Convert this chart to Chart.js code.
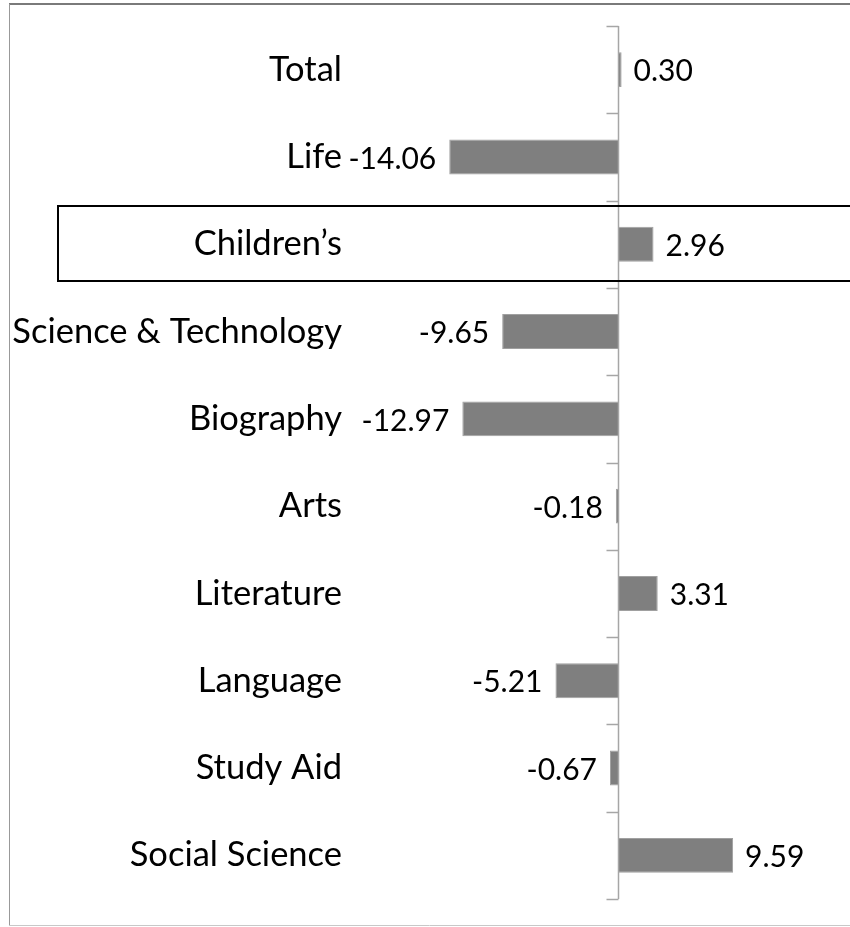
<!DOCTYPE html>
<html>
<head>
<meta charset="utf-8">
<script src="https://cdn.jsdelivr.net/npm/chart.js@4"></script>
<style>
  html, body { margin: 0; padding: 0; background: #fff; }
</style>
</head>
<body>
<canvas id="chart" width="850" height="927"></canvas>
<script>
// Categories, top to bottom
const categories = ['Total', 'Life', 'Children\u2019s', 'Science & Technology', 'Biography',
  'Arts', 'Literature', 'Language', 'Study Aid', 'Social Science'];
// Change values per category
const values = [0.30, -14.06, 2.96, -9.65, -12.97, -0.18, 3.31, -5.21, -0.67, 9.59];
// Row outlined with a box
const highlighted = 'Children\u2019s';

const FONT = 'Lato, "Open Sans", sans-serif';

// Draws the frame, zero axis with ticks, value labels and highlight box
const decorations = {
  id: 'decorations',
  beforeDraw(chart) {
    const { ctx } = chart;
    ctx.save();
    ctx.strokeStyle = '#7a7a7a';
    ctx.lineWidth = 2;
    ctx.beginPath();
    ctx.moveTo(9, 4);
    ctx.lineTo(850, 4);
    ctx.stroke();
    ctx.strokeStyle = '#999';
    ctx.lineWidth = 1;
    ctx.beginPath();
    ctx.moveTo(9.5, 4);
    ctx.lineTo(9.5, 926);
    ctx.stroke();
    ctx.strokeStyle = '#c8c8c8';
    ctx.beginPath();
    ctx.moveTo(9, 925.5);
    ctx.lineTo(850, 925.5);
    ctx.stroke();
    ctx.restore();
  },
  afterDatasetsDraw(chart) {
    const { ctx, chartArea, scales: { x, y } } = chart;
    const zero = Math.round(x.getPixelForValue(0)) + 0.5;
    const step = (chartArea.bottom - chartArea.top) / categories.length;
    ctx.save();

    // zero axis + tick marks between categories
    ctx.strokeStyle = '#a6a6a6';
    ctx.lineWidth = 1.5;
    ctx.beginPath();
    ctx.moveTo(zero, chartArea.top);
    ctx.lineTo(zero, chartArea.bottom);
    for (let i = 0; i <= categories.length; i++) {
      const ty = Math.round(chartArea.top + i * step) + 0.5;
      ctx.moveTo(zero - 12, ty);
      ctx.lineTo(zero, ty);
    }
    ctx.stroke();

    // value labels
    ctx.fillStyle = '#000';
    ctx.font = '30px ' + FONT;
    ctx.textBaseline = 'middle';
    values.forEach((v, i) => {
      const px = x.getPixelForValue(v);
      const py = y.getPixelForValue(i) + 2;
      if (v >= 0) {
        ctx.textAlign = 'left';
        ctx.fillText(v.toFixed(2), px + 12, py);
      } else {
        ctx.textAlign = 'right';
        ctx.fillText(v.toFixed(2), px - 13, py);
      }
    });

    // highlight box
    const hy = y.getPixelForValue(categories.indexOf(highlighted));
    ctx.strokeStyle = '#000';
    ctx.lineWidth = 2;
    ctx.strokeRect(58, Math.round(hy) - 38, 800, 75);
    ctx.restore();
  }
};

new Chart(document.getElementById('chart'), {
  type: 'bar',
  data: {
    labels: categories,
    datasets: [{
      data: values,
      backgroundColor: '#7f7f7f',
      borderColor: '#a0a0a0',
      borderWidth: 1,
      barPercentage: 0.4,
      categoryPercentage: 1
    }]
  },
  options: {
    indexAxis: 'y',
    responsive: false,
    animation: false,
    layout: { padding: { top: 26, bottom: 28, left: 10, right: 0 } },
    plugins: { legend: { display: false }, tooltip: { enabled: false } },
    scales: {
      x: { display: false, min: -22.33, max: 19.33 },
      y: {
        grid: { display: false },
        border: { display: false },
        afterFit(scale) { scale.width = 340; },
        ticks: { color: '#000', padding: 0, font: { family: FONT, size: 34.5 } }
      }
    }
  },
  plugins: [decorations]
});
</script>
</body>
</html>
